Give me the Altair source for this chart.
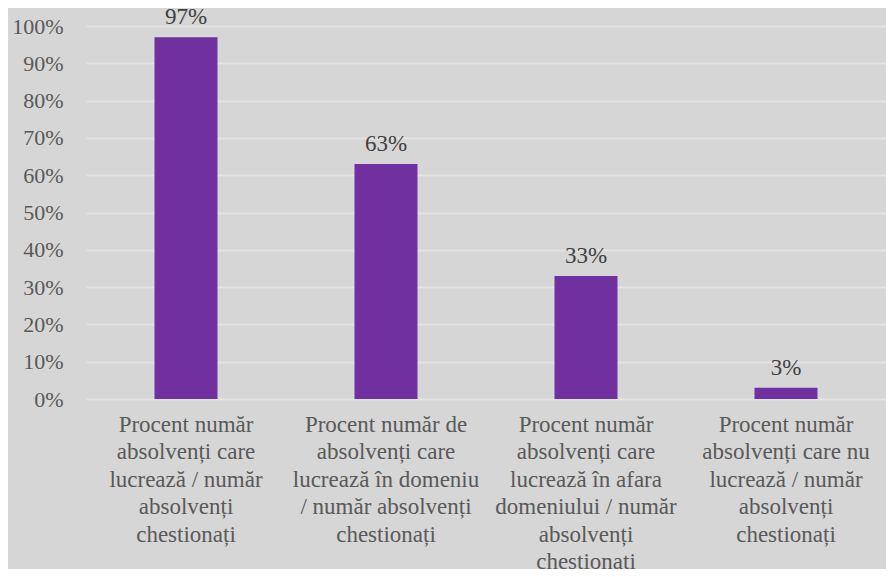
import altair as alt
import pandas as pd

categories = [
    "Procent număr|absolvenți care|lucrează / număr|absolvenți|chestionați",
    "Procent număr de|absolvenți care|lucrează în domeniu|/ număr absolvenți|chestionați",
    "Procent număr|absolvenți care|lucrează în afara|domeniului / număr|absolvenți|chestionați",
    "Procent număr|absolvenți care nu|lucrează / număr|absolvenți|chestionați",
]
values = [0.97, 0.63, 0.33, 0.03]
labels = ["97%", "63%", "33%", "3%"]
y_ticks = [0, 0.1, 0.2, 0.3, 0.4, 0.5, 0.6, 0.7, 0.8, 0.9, 1.0]

df = pd.DataFrame({"cat": categories, "val": values, "lbl": labels})

FONT = "Times New Roman, Liberation Serif, serif"
TXT = "#595959"

x = alt.X("cat:N", sort=categories, title=None,
          scale=alt.Scale(paddingInner=0, paddingOuter=0),
          axis=alt.Axis(labelExpr="split(datum.label, '|')", labelAngle=0,
                        labelFont=FONT, labelFontSize=23, labelColor=TXT,
                        labelLineHeight=27.5, labelPadding=14, ticks=False,
                        domain=False, labelBaseline="top", labelLimit=300,
                        labelOverlap=False))
y = alt.Y("val:Q", title=None,
          scale=alt.Scale(domain=[0, 1]),
          axis=alt.Axis(format=".0%", values=y_ticks, labelOverlap=False,
                        labelFont=FONT, labelFontSize=22, labelColor=TXT,
                        labelPadding=23, ticks=False, domain=False,
                        gridColor="#e2e2e2", gridWidth=2, labelFlush=False))

bars = alt.Chart(df).mark_bar(color="#7030a0", size=63).encode(x=x, y=y)
text = alt.Chart(df).mark_text(font=FONT, fontSize=23, color="#404040",
                               baseline="bottom", dy=-8).encode(
    x=x, y=y, text="lbl:N")

chart = (bars + text).properties(
    width=800, height=373,
    autosize=alt.AutoSizeParams(type="none"),
    padding={"left": 78, "top": 18, "right": 0, "bottom": 170},
    background="#d6d6d6",
).configure_view(stroke=None, fill="#d6d6d6")

chart.save("out.html", embed_options={"renderer": "svg", "actions": False})
